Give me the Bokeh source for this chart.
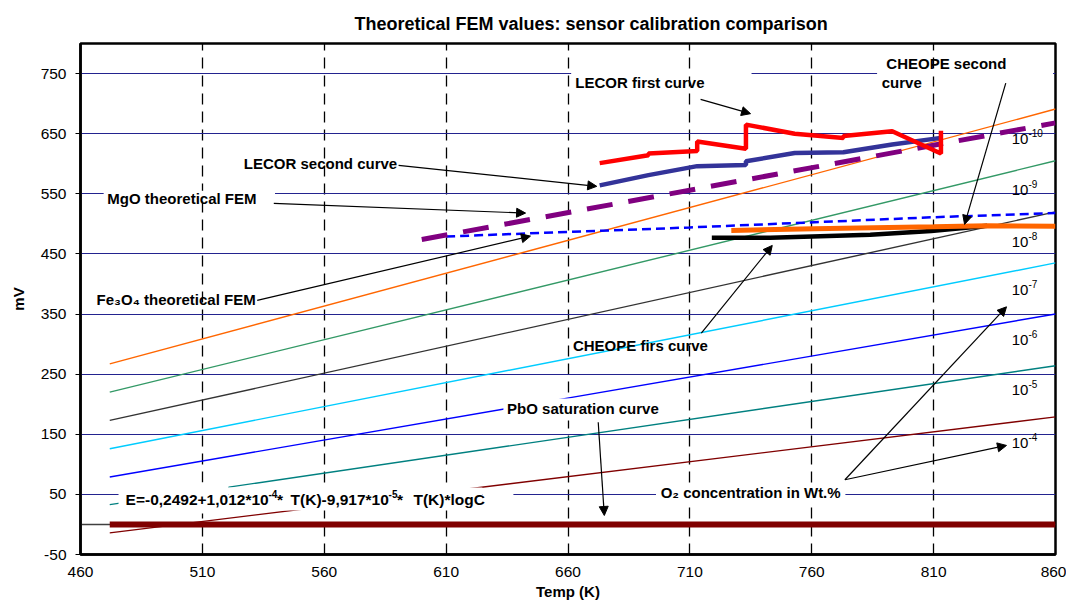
from bokeh.plotting import figure
from bokeh.models import Range1d, FixedTicker, Arrow, NormalHead, Label, BoxAnnotation, Span
from bokeh.embed import file_html
from bokeh.resources import INLINE

# ---------------- data ----------------
x_ticks = [460, 510, 560, 610, 660, 710, 760, 810, 860]
y_ticks = [-50, 50, 150, 250, 350, 450, 550, 650, 750]

conc_exponents = ["-10", "-9", "-8", "-7", "-6", "-5", "-4"]
conc_T = [472, 860]
conc_E_start = [267, 220, 173, 126, 79, 33, -14]
conc_E_end = [691, 605, 520, 435, 350, 264, 179]

lecor1_T = [673, 693, 693, 713, 713, 733, 733, 753, 773, 773, 793, 813, 813]
lecor1_E = [601, 614, 617, 621, 637, 625, 665, 650, 643, 646, 654, 617, 655]

lecor2_T = [673, 693, 713, 733, 733, 753, 773, 793, 813]
lecor2_E = [564, 581, 596, 598, 604, 618, 619, 632, 643]

mgo_T = [600, 860]
mgo_E = [474, 668]

fe3o4_T = [610, 710, 810, 860]
fe3o4_E = [479, 494, 511, 518]

cheope1_T = [719, 743, 784, 809, 832]
cheope1_E = [477, 477, 482, 488, 497]

cheope2_T = [727, 761, 810, 832, 860]
cheope2_E = [489, 492, 495, 497, 496]

pbo_T = [472, 860]
pbo_E = [0, 0]

# ---------------- styling ----------------
FONT = "Liberation Sans"
conc_colors = ["#FF6600", "#339966", "#333333", "#00CCFF", "#0000FF", "#008080", "#800000"]

p = figure(width=1066, height=605,
           x_range=Range1d(460, 860), y_range=Range1d(-50, 800),
           output_backend="svg", toolbar_location=None,
           min_border_left=80, min_border_right=11, min_border_top=43, min_border_bottom=51)

p.title.text = "Theoretical FEM values: sensor calibration comparison"
p.title.text_font = FONT
p.title.text_font_size = "18px"
p.title.text_font_style = "bold"
p.title.text_color = "black"
p.title.align = "left"
p.title.offset = 274
p.title.standoff = 20

p.outline_line_color = "black"
p.outline_line_width = 2.5
p.background_fill_color = "white"
p.border_fill_color = "white"

# axes
p.xaxis.ticker = FixedTicker(ticks=x_ticks)
p.yaxis.ticker = FixedTicker(ticks=y_ticks)
p.yaxis.major_label_overrides = {t: str(t) for t in y_ticks}
for ax in (p.xaxis[0], p.yaxis[0]):
    ax.axis_line_color = "black"
    ax.axis_line_width = 2.5
    ax.major_label_text_font = FONT
    ax.major_label_text_font_size = "15.5px"
    ax.major_label_text_color = "black"
    ax.axis_label_text_font = FONT
    ax.axis_label_text_font_size = "15px"
    ax.axis_label_text_font_style = "bold"
    ax.axis_label_text_color = "black"
    ax.minor_tick_line_color = None
    ax.major_tick_in = 0
p.xaxis.axis_label = "Temp (K)"
p.yaxis.axis_label = "mV"
p.xaxis.major_tick_out = 0
p.xaxis.major_label_standoff = 12
p.xaxis.axis_label_standoff = 3
p.yaxis.major_tick_out = 5
p.yaxis.major_tick_line_color = "black"
p.yaxis.major_label_standoff = 9
p.yaxis.axis_label_standoff = 11

# grids
p.ygrid.ticker = FixedTicker(ticks=y_ticks)
p.ygrid.grid_line_color = "#23238f"
p.ygrid.grid_line_width = 1
p.xgrid.ticker = FixedTicker(ticks=x_ticks[1:-1])
p.xgrid.grid_line_color = "black"
p.xgrid.grid_line_width = 1.3
p.xgrid.grid_line_dash = "11 7"

p.add_layout(Span(location=0, dimension="width", line_color="#404040",
                  line_width=1.5, level="underlay"))

# concentration lines
for s, e, c in zip(conc_E_start, conc_E_end, conc_colors):
    p.line(conc_T, [s, e], line_color=c, line_width=1.4)

# measured / theoretical curves
p.line(pbo_T, pbo_E, line_color="#800000", line_width=6)
p.line(fe3o4_T, fe3o4_E, line_color="#0000FF", line_width=2.5, line_dash="9 5")
p.line(mgo_T, mgo_E, line_color="#800080", line_width=5, line_dash="26 16")
p.line(cheope1_T, cheope1_E, line_color="black", line_width=4.5)
p.line(cheope2_T, cheope2_E, line_color="#FF6600", line_width=5)
p.line(lecor2_T, lecor2_E, line_color="#333399", line_width=4.5)
p.line(lecor1_T, lecor1_E, line_color="#FF0000", line_width=4.5)

# white text-box backgrounds (hide gridlines/lines like in the reference)
for l, r, b, t in [(661.3, 735.3, 745, 755), (786.8, 859.0, 745, 755),
                   (469.5, 539.8, 545, 555), (696.1, 773.8, 38, 62),
                   (475.6, 520.7, 18.2, 69.8), (520.7, 624.9, 23.2, 61.5),
                   (624.9, 637.6, 40, 58), (633.5, 697.9, 173, 209.6)]:
    p.add_layout(BoxAnnotation(left=l, right=r, bottom=b, top=t, fill_color="white",
                               fill_alpha=1, line_color=None))

def lab(x, y, text, bold=True, size="15px"):
    p.add_layout(Label(x=x, y=y, text=text, text_font=FONT, text_font_size=size,
                       text_font_style="bold" if bold else "normal", text_color="black",
                       text_align="left", text_baseline="middle"))

lab(663, 735, "LECOR first curve")
lab(790.6, 767.5, "CHEOPE second")
lab(788.7, 735.4, "curve")
lab(527, 600, "LECOR second curve")
lab(471, 542, "MgO theoretical FEM")
lab(466.6, 374, "Fe\u2083O\u2084 theoretical FEM")
lab(662, 298, "CHEOPE firs curve")
lab(635, 192.4, "PbO saturation curve")
lab(478.5, 41, "E=-0,2492+1,012*10", size="15.5px")
lab(537.1, 50, "-4", size="10px")
lab(540.6, 41, "*", size="15.5px")
lab(546.2, 41, "T(K)-9,917*10", size="15.5px")
lab(586.4, 50, "-5", size="10px")
lab(589.8, 41, "*", size="15.5px")
lab(596.6, 41, "T(K)*logC", size="15.5px")
lab(698, 53.6, "O\u2082 concentration in Wt.%")

for ex, yy in zip(conc_exponents, [641.7, 555.7, 469.6, 389.3, 306.1, 222.9, 134.7]):
    lab(842, yy, "10", bold=False, size="15px")
    lab(848.9, yy + 10, ex, bold=False, size="10px")

for xs, ys, xe, ye in [(714.4, 707.1, 734.9, 683.3), (839.6, 734.2, 822.7, 499.1),
                       (590.5, 597.3, 671.8, 562.4), (539.3, 534.0, 642.6, 517.9),
                       (532.5, 372.6, 644.6, 479.6), (714.7, 318.2, 743.8, 464.1),
                       (672.4, 170.1, 674.9, 14.9), (773.6, 74.3, 839.9, 131.4),
                       (773.6, 74.3, 839.9, 362.0)]:
    p.add_layout(Arrow(x_start=xs, y_start=ys, x_end=xe, y_end=ye, line_color="black",
                       line_width=1.2,
                       end=NormalHead(size=9, fill_color="black", line_color="black", line_width=1)))

open("out.html", "w").write(file_html(p, INLINE))
